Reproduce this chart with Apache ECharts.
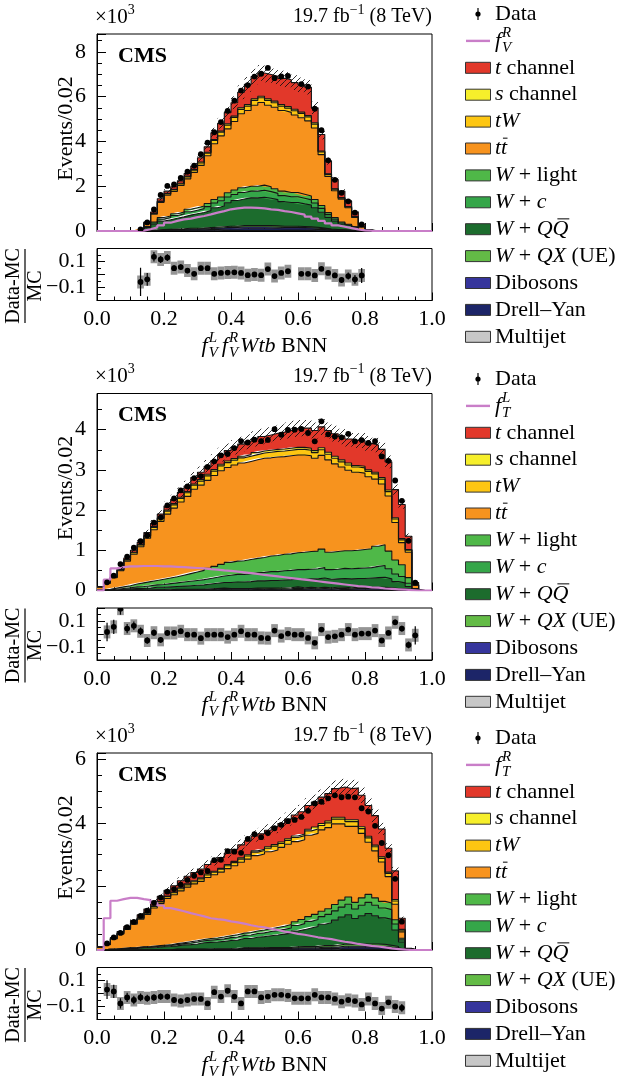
<!DOCTYPE html>
<html><head><meta charset="utf-8">
<script src="https://cdn.jsdelivr.net/npm/echarts@6/dist/echarts.min.js"></script>
<style>html,body{margin:0;padding:0;background:#fff}#c{width:632px;height:1081px}</style>
</head><body><div id="c"></div>
<script>
// ---------------- DATA (values in units of 10^3 events per bin, 50 bins of width 0.02) ----------------
const binWidth = 0.02;
const xTickLabels = ['0.0','0.2','0.4','0.6','0.8','1.0'];

// Panel 1 : f_V^R
const p1_tchan = [0,0,0,0,0,0, 0.01,0.03,0.06,0.1,0.1,0.12,0.11,0.12,0.15,0.19, 0.24,0.3,0.35,0.5,0.6,0.7,0.9,1.0,1.04,1.09, 1.11,1.17,1.2,1.19,1.22,1.26,0.67,0.74,0.56,0.41, 0.29,0.25,0.21,0.11,0.02, 0,0,0,0,0,0,0,0,0];
const p1_schan = [0,0,0,0,0,0, 0,0,0.01,0.02,0.02,0.02,0.03,0.03,0.03,0.04, 0.04,0.05,0.05,0.06,0.06,0.07,0.07,0.07,0.07,0.07, 0.07,0.07,0.07,0.07,0.06,0.06,0.06,0.04,0.03,0.02, 0.02,0.01,0.01,0,0, 0,0,0,0,0,0,0,0,0];
const p1_tW = [0,0,0,0,0,0, 0,0.01,0.03,0.05,0.06,0.07,0.07,0.09,0.1,0.11, 0.12,0.14,0.16,0.17,0.18,0.19,0.2,0.21,0.21,0.21, 0.2,0.2,0.19,0.19,0.19,0.18,0.17,0.12,0.09,0.07, 0.05,0.04,0.02,0.01,0, 0,0,0,0,0,0,0,0,0];
const p1_ttbar = [0,0,0,0,0,0, 0.02,0.16,0.35,0.67,0.93,1.0,1.18,1.36,1.58,1.81, 2.13,2.49,2.73,2.85,3.06,3.31,3.38,3.62,3.69,3.64, 3.64,3.6,3.58,3.46,3.42,3.36,3.19,2.27,1.62,1.2, 1.02,0.74,0.42,0.11,0.02, 0,0,0,0,0,0,0,0,0];
const p1_Wlight = [0,0,0,0,0,0, 0.01,0.02,0.04,0.07,0.07,0.08,0.09,0.11,0.11,0.12, 0.14,0.16,0.17,0.19,0.2,0.21,0.22,0.22,0.23,0.22, 0.21,0.2,0.19,0.19,0.18,0.17,0.16,0.13,0.09,0.07, 0.04,0.03,0.02,0.01,0, 0,0,0,0,0,0,0,0,0];
const p1_Wc = [0,0,0,0,0,0, 0.01,0.03,0.06,0.09,0.1,0.12,0.13,0.15,0.16,0.17, 0.18,0.21,0.23,0.26,0.27,0.29,0.3,0.3,0.31,0.3, 0.28,0.27,0.26,0.26,0.25,0.23,0.21,0.17,0.12,0.09, 0.06,0.05,0.03,0.01,0, 0,0,0,0,0,0,0,0,0];
const p1_WQQ = [0,0,0,0,0,0, 0.03,0.12,0.26,0.37,0.42,0.48,0.53,0.59,0.65,0.7, 0.76,0.87,0.93,1.05,1.15,1.19,1.24,1.24,1.27,1.22, 1.17,1.1,1.06,1.06,1.01,0.97,0.87,0.71,0.52,0.37, 0.25,0.19,0.11,0.05,0.01, 0,0,0,0,0,0,0,0,0];
const p1_WQX = [0,0,0,0,0,0, 0,0.01,0.01,0.02,0.02,0.02,0.03,0.03,0.03,0.03, 0.04,0.04,0.05,0.05,0.05,0.06,0.06,0.06,0.06,0.06, 0.06,0.05,0.05,0.05,0.05,0.05,0.04,0.03,0.02,0.02, 0.01,0.01,0.01,0,0, 0,0,0,0,0,0,0,0,0];
const p1_diboson = [0,0,0,0,0,0, 0,0.01,0.01,0.02,0.02,0.03,0.03,0.04,0.04,0.05, 0.05,0.06,0.06,0.07,0.07,0.08,0.08,0.08,0.08,0.08, 0.07,0.07,0.07,0.07,0.06,0.06,0.06,0.04,0.03,0.02, 0.02,0.01,0.01,0,0, 0,0,0,0,0,0,0,0,0];
const p1_DY = [0,0,0,0,0,0, 0,0.01,0.02,0.02,0.03,0.03,0.03,0.04,0.04,0.04, 0.05,0.06,0.06,0.07,0.07,0.08,0.08,0.08,0.08,0.08, 0.08,0.07,0.07,0.07,0.07,0.06,0.06,0.05,0.03,0.02, 0.02,0.01,0.01,0,0, 0,0,0,0,0,0,0,0,0];
const p1_multijet = [0,0,0,0,0,0, 0,0,0,0.01,0.01,0.01,0.01,0.01,0.01,0.01, 0.01,0.01,0.02,0.02,0.02,0.02,0.02,0.02,0.02,0.02, 0.02,0.02,0.02,0.02,0.02,0.02,0.01,0.01,0.01,0.01, 0,0,0,0,0, 0,0,0,0,0,0,0,0,0];
const p1_signal = [0,0,0,0,0,0, 0.02,0.08,0.16,0.25,0.37,0.45,0.52,0.55,0.62,0.67, 0.74,0.82,0.89,0.97,1.01,1.04,1.04,1.03,1.01,0.97, 0.94,0.89,0.85,0.79,0.73,0.64,0.55,0.45,0.34,0.25, 0.19,0.13,0.07,0.03,0.01, 0,0,0,0,0,0,0,0,0];
const p1_ratio = [null,null,null,null,null,null, -0.057,-0.037,0.136,0.116,0.13,0.049,0.057,0.03,0.005,0.049, 0.049,0.005,0.012,0.015,0.017,0.012,-0.005,0,-0.005,0.042, -0.012,0.012,0.025,null,0.005,0.005,-0.007,0.044,0.012,-0.007, -0.042,-0.012,-0.037,-0.007,null, null,null,null,null,null,null,null,null,null];

// Panel 2 : f_T^L
const p2_tchan = [0.01,0.01,0.02,0.03,0.04,0.05,0.06,0.07,0.08,0.09, 0.1,0.11,0.12,0.14,0.16,0.18,0.2,0.22,0.24,0.26, 0.28,0.3,0.32,0.34,0.36,0.38,0.4,0.42,0.44,0.46, 0.48,0.5,0.5,0.52,0.54,0.56,0.58,0.6,0.62,0.64, 0.66,0.68,0.7,0.7,0.7,0.85,0.33,0.06,0,0];
const p2_schan = [0,0,0,0.01,0.01,0.01,0.01,0.02,0.02,0.02, 0.03,0.03,0.03,0.03,0.03,0.04,0.04,0.04,0.04,0.04, 0.04,0.04,0.04,0.05,0.05,0.05,0.05,0.05,0.05,0.05, 0.05,0.05,0.05,0.05,0.05,0.05,0.05,0.05,0.04,0.04, 0.04,0.04,0.04,0.04,0.03,0.03,0.02,0,0,0];
const p2_tW = [0,0.01,0.01,0.02,0.03,0.04,0.04,0.05,0.06,0.07, 0.07,0.08,0.09,0.09,0.1,0.1,0.11,0.11,0.12,0.12, 0.12,0.13,0.13,0.13,0.13,0.14,0.14,0.14,0.14,0.14, 0.14,0.14,0.14,0.14,0.14,0.14,0.13,0.13,0.13,0.13, 0.13,0.13,0.12,0.11,0.09,0.07,0.05,0.01,0,0];
const p2_ttbar = [0.08,0.15,0.26,0.4,0.61,0.74,0.9,1.08,1.26,1.44, 1.59,1.71,1.82,1.92,2.06,2.12,2.19,2.26,2.33,2.36, 2.39,2.43,2.44,2.45,2.47,2.44,2.45,2.43,2.44,2.43, 2.42,2.38,2.31,2.33,2.3,2.18,2.08,2.0,1.94,1.9, 1.79,1.67,1.51,1.37,0.93,0.55,0.63,0.08,0,0];
const p2_Wlight = [0,0.01,0.03,0.04,0.05,0.07,0.09,0.1,0.11,0.13, 0.14,0.15,0.17,0.19,0.21,0.23,0.25,0.27,0.29,0.32, 0.33,0.34,0.35,0.36,0.37,0.39,0.4,0.41,0.41,0.42, 0.43,0.44,0.44,0.46,0.43,0.44,0.44,0.45,0.45,0.46, 0.47,0.5,0.52,0.44,0.35,0.29,0.14,0.02,0,0];
const p2_Wc = [0,0.01,0.02,0.02,0.03,0.04,0.05,0.06,0.06,0.07, 0.08,0.09,0.1,0.11,0.12,0.13,0.14,0.15,0.16,0.18, 0.19,0.19,0.2,0.2,0.21,0.22,0.22,0.23,0.23,0.23, 0.24,0.24,0.25,0.26,0.24,0.24,0.25,0.25,0.25,0.26, 0.26,0.28,0.29,0.25,0.19,0.16,0.08,0.01,0,0];
const p2_WQQ = [0.01,0.01,0.01,0.02,0.03,0.03,0.04,0.05,0.06,0.06, 0.07,0.07,0.08,0.09,0.1,0.11,0.12,0.13,0.14,0.15, 0.16,0.16,0.17,0.18,0.18,0.19,0.19,0.2,0.2,0.2, 0.21,0.21,0.22,0.23,0.21,0.21,0.22,0.22,0.22,0.22, 0.23,0.24,0.25,0.22,0.17,0.14,0.07,0.02,0,0];
const p2_WQX = [0,0,0,0,0,0,0,0,0.01,0.01, 0.01,0.01,0.01,0.01,0.01,0.01,0.02,0.02,0.02,0.02, 0.02,0.02,0.02,0.02,0.03,0.02,0.03,0.03,0.03,0.03, 0.03,0.03,0.03,0.03,0.03,0.03,0.03,0.03,0.03,0.03, 0.03,0.03,0.03,0.03,0.02,0.02,0.01,0,0,0];
const p2_diboson = [0,0,0,0.01,0.01,0.01,0.01,0.01,0.01,0.01, 0.01,0.01,0.01,0.01,0.01,0.01,0.01,0.02,0.02,0.02, 0.02,0.02,0.02,0.02,0.02,0.02,0.02,0.02,0.02,0.03, 0.02,0.03,0.02,0.03,0.02,0.03,0.02,0.02,0.03,0.03, 0.03,0.03,0.03,0.02,0.02,0.02,0.01,0,0,0];
const p2_DY = [0,0,0,0,0,0.01,0,0,0,0, 0,0.01,0.01,0.01,0.01,0.01,0.01,0.01,0.01,0.01, 0.01,0.01,0.01,0.01,0.01,0.02,0.01,0.01,0.02,0.02, 0.02,0.02,0.02,0.02,0.02,0.02,0.02,0.02,0.02,0.02, 0.02,0.02,0.02,0.02,0.01,0.01,0.01,0,0,0];
const p2_multijet = [0,0,0,0,0,0,0,0,0,0, 0,0,0,0,0,0,0,0,0.01,0, 0,0,0,0.01,0,0,0,0,0,0.01, 0,0,0,0,0,0,0.01,0,0,0, 0,0,0,0,0,0,0,0,0,0];
const p2_signal = [0,0.27,0.55,0.58,0.6,0.6,0.61,0.61,0.61,0.6, 0.6,0.59,0.58,0.57,0.56,0.55,0.53,0.52,0.5,0.49, 0.47,0.45,0.43,0.41,0.39,0.37,0.35,0.33,0.31,0.29, 0.27,0.25,0.23,0.21,0.19,0.17,0.15,0.13,0.11,0.1, 0.08,0.07,0.05,0.04,0.03,0.02,0.01,0,0,0];
const p2_ratio = [null, 0.016,0.055,0.195,0.042,0.063,0.021,-0.05,0.01,-0.045, 0.008,0.008,0.021,-0.005,-0.005,-0.032,-0.005,-0.005,-0.005,-0.024, -0.005,0.021,-0.005,-0.005,-0.03,-0.032,0.026,-0.016,0.003,-0.005, -0.005,-0.03,-0.068,0.034,-0.024,-0.018,-0.005,0.034,-0.005,0.003, 0.003,0.026,-0.05,0.008,0.09,0.042,-0.084,-0.01,null,null];

// Panel 3 : f_T^R
const p3_tchan = [0.01,0.02,0.03,0.05,0.06,0.08,0.1,0.11,0.14,0.16, 0.18,0.2,0.22,0.24,0.26,0.28,0.3,0.32,0.34,0.36, 0.38,0.41,0.44,0.47,0.49,0.52,0.55,0.58,0.62,0.66, 0.7,0.75,0.79,0.83,0.86,0.9,0.95,0.98,1.0,0.99, 0.97,0.93,0.88,0.75,0.9,0.35,0.02,0,0,0];
const p3_schan = [0,0,0,0.01,0.01,0.01,0.01,0.02,0.02,0.02, 0.02,0.02,0.03,0.03,0.03,0.03,0.03,0.03,0.03,0.04, 0.04,0.04,0.04,0.04,0.04,0.05,0.05,0.05,0.05,0.05, 0.05,0.05,0.06,0.06,0.06,0.06,0.06,0.06,0.06,0.06, 0.05,0.05,0.05,0.04,0.05,0.03,0,0,0,0];
const p3_tW = [0,0.01,0.01,0.02,0.02,0.03,0.03,0.04,0.05,0.05, 0.06,0.06,0.07,0.07,0.07,0.08,0.08,0.08,0.09,0.09, 0.1,0.1,0.1,0.11,0.11,0.11,0.12,0.12,0.12,0.13, 0.13,0.14,0.14,0.14,0.15,0.15,0.15,0.15,0.15,0.15, 0.14,0.13,0.11,0.1,0.1,0.05,0,0,0,0];
const p3_ttbar = [0.08,0.15,0.32,0.45,0.58,0.73,0.87,1.01,1.19,1.31, 1.46,1.54,1.63,1.72,1.79,1.83,1.92,1.99,2.04,2.11, 2.17,2.23,2.31,2.37,2.39,2.42,2.44,2.48,2.53,2.52, 2.51,2.56,2.55,2.56,2.55,2.54,2.4,2.22,2.39,2.03, 1.64,1.48,1.24,0.83,0.49,0.2,0.01,0,0,0];
const p3_Wlight = [0,0,0,0.01,0.01,0.01,0.01,0.02,0.02,0.02, 0.02,0.03,0.03,0.04,0.04,0.04,0.05,0.05,0.06,0.06, 0.07,0.07,0.08,0.08,0.09,0.09,0.1,0.1,0.11,0.12, 0.13,0.15,0.16,0.17,0.18,0.2,0.22,0.23,0.21,0.23, 0.25,0.23,0.21,0.21,0.13,0.05,0,0,0,0];
const p3_Wc = [0,0,0.01,0.01,0.01,0.02,0.02,0.02,0.03,0.03, 0.03,0.04,0.04,0.05,0.06,0.06,0.07,0.08,0.08,0.09, 0.1,0.1,0.11,0.12,0.12,0.13,0.14,0.15,0.16,0.17, 0.19,0.21,0.22,0.24,0.26,0.29,0.31,0.33,0.3,0.33, 0.35,0.33,0.31,0.3,0.19,0.07,0,0,0,0];
const p3_WQQ = [0.01,0.02,0.02,0.03,0.05,0.05,0.07,0.07,0.07,0.09, 0.1,0.1,0.13,0.14,0.16,0.2,0.21,0.21,0.23,0.26, 0.27,0.29,0.29,0.33,0.35,0.37,0.39,0.42,0.45,0.5, 0.53,0.58,0.63,0.67,0.72,0.79,0.86,0.92,0.81,0.89, 0.96,0.89,0.83,0.82,0.52,0.22,0.02,0,0,0];
const p3_WQX = [0,0,0,0,0,0,0,0,0.01,0.01, 0.01,0.01,0.01,0.01,0.01,0.01,0.01,0.02,0.02,0.02, 0.02,0.02,0.02,0.02,0.02,0.03,0.03,0.03,0.03,0.03, 0.04,0.04,0.04,0.05,0.05,0.06,0.06,0.07,0.06,0.07, 0.07,0.07,0.06,0.06,0.04,0.01,0,0,0,0];
const p3_diboson = [0,0,0,0,0,0,0,0,0,0, 0,0.01,0.01,0.01,0.01,0.01,0.01,0.01,0.01,0.01, 0.01,0.02,0.02,0.02,0.02,0.02,0.02,0.02,0.02,0.03, 0.03,0.03,0.03,0.04,0.04,0.04,0.05,0.05,0.05,0.05, 0.05,0.05,0.05,0.04,0.03,0.01,0,0,0,0];
const p3_DY = [0,0,0,0,0,0,0,0,0,0, 0,0.01,0.01,0.01,0.01,0.01,0.01,0.01,0.01,0.01, 0.01,0.02,0.02,0.02,0.02,0.02,0.02,0.02,0.02,0.03, 0.03,0.03,0.03,0.04,0.04,0.04,0.05,0.05,0.05,0.05, 0.05,0.05,0.05,0.04,0.03,0.01,0,0,0,0];
const p3_multijet = [0,0,0,0,0,0,0,0,0,0, 0,0,0,0,0,0,0,0,0,0, 0,0.01,0.01,0.01,0.01,0.01,0.01,0.01,0.01,0.01, 0.01,0.01,0.01,0.01,0.01,0.01,0.02,0.02,0.02,0.02, 0.02,0.02,0.02,0.01,0.01,0,0,0,0,0];
const p3_signal = [0,1.0,1.55,1.6,1.64,1.64,1.6,1.57,1.48,1.4, 1.32,1.27,1.22,1.16,1.11,1.06,1.0,0.97,0.95,0.9, 0.87,0.83,0.78,0.74,0.71,0.67,0.63,0.58,0.55,0.51, 0.48,0.44,0.4,0.37,0.34,0.3,0.26,0.23,0.19,0.16, 0.13,0.11,0.08,0.05,0.03,0.01,0,0,0,0];
const p3_ratio = [null, 0.03,0.016,-0.076,-0.03,-0.05,-0.03,-0.037,-0.03,-0.024, -0.024,-0.05,-0.058,-0.05,-0.042,-0.042,-0.076,0.01,-0.024,0.021, -0.024,-0.076,0.016,0.016,-0.03,-0.024,-0.01,-0.01,-0.016,-0.037, -0.037,-0.037,-0.01,-0.03,-0.03,-0.042,-0.063,-0.05,-0.058,-0.084, -0.042,-0.076,-0.116,-0.068,-0.1,-0.11,null,null,null,null];

const mcRelUnc = 0.05; // relative MC uncertainty (hatched band / grey boxes)

// ---------------- STYLE / LAYOUT ----------------
const FONT = 'Liberation Serif';
const COLORS = {t:'#e2382a', s:'#f6ef2b', tW:'#fdc612', tt:'#f7931e', Wl:'#4fb848', Wc:'#35a649',
  QQ:'#1c6c2d', UE:'#63bb46', DB:'#36359c', DY:'#1c2568', MJ:'#c7c7c7', sig:'#c97ec8'};
const ORDER = ['MJ','DY','DB','UE','QQ','Wc','Wl','tt','tW','s','t']; // bottom -> top
const panels = [
  {t:p1_tchan,s:p1_schan,tW:p1_tW,tt:p1_ttbar,Wl:p1_Wlight,Wc:p1_Wc,QQ:p1_WQQ,UE:p1_WQX,DB:p1_diboson,DY:p1_DY,MJ:p1_multijet,sig:p1_signal,ratio:p1_ratio,
   ymax:8.8, yint:2, yminor:4, sup:'R', sub:'V'},
  {t:p2_tchan,s:p2_schan,tW:p2_tW,tt:p2_ttbar,Wl:p2_Wlight,Wc:p2_Wc,QQ:p2_WQQ,UE:p2_WQX,DB:p2_diboson,DY:p2_DY,MJ:p2_multijet,sig:p2_signal,ratio:p2_ratio,
   ymax:4.9, yint:1, yminor:2, sup:'L', sub:'T'},
  {t:p3_tchan,s:p3_schan,tW:p3_tW,tt:p3_ttbar,Wl:p3_Wlight,Wc:p3_Wc,QQ:p3_WQQ,UE:p3_WQX,DB:p3_diboson,DY:p3_DY,MJ:p3_multijet,sig:p3_signal,ratio:p3_ratio,
   ymax:6.2, yint:2, yminor:4, sup:'R', sub:'T'}
];
const LEFT = 97, WIDTH = 335, MAIN_TOP = [34, 393.5, 753], MAIN_H = 197, GAP = 17.5, RAT_H = 52;
const DY_PANEL = [0, 359.5, 719];
const LEG_TOP = [14, 379, 738];

const NB = 50;
const edges = Array.from({length: NB + 1}, (_, i) => +(i * binWidth).toFixed(2));
// points stored as [value, x] so that the stacked dimension is the value (encode x:1, y:0)
function stepData(arr) { const d = arr.map((v, i) => [v, edges[i]]); d.push([arr[NB - 1], edges[NB]]); return d; }

// hatch pattern
const hc = document.createElement('canvas'); hc.width = 6; hc.height = 6;
(function(){ const g = hc.getContext('2d'); g.strokeStyle = 'rgba(15,15,15,0.95)'; g.lineWidth = 0.9;
  g.beginPath(); g.moveTo(0,6); g.lineTo(6,0); g.moveTo(-1,1); g.lineTo(1,-1); g.moveTo(5,7); g.lineTo(7,5); g.stroke(); })();
const HATCH = {image: hc, repeat: 'repeat'};

// text helpers
const mctx = document.createElement('canvas').getContext('2d');
function fstr(s) { return (s.it ? 'italic ' : '') + (s.b ? 'bold ' : '') + (s.size || 22) + 'px "' + FONT + '"'; }
function txt(t, x, y, s) {
  return {type:'text', x, y, silent:true, style:{text:t, fill:'#000', fontFamily:FONT, fontSize:s.size || 22,
    fontStyle:s.it ? 'italic' : 'normal', fontWeight:s.b ? 'bold' : 'normal',
    align:'left', verticalAlign:'middle', textAlign:'left', textVerticalAlign:'middle'}};
}
function runs(segs, x, y, align) {
  let cur = 0, lastStart = 0, lastW = 0; const pos = [];
  segs.forEach(s => { mctx.font = fstr(s); const w = mctx.measureText(s.t).width; let sx;
    if (s.stack) { sx = lastStart; const adv = Math.max(lastW, w); cur = lastStart + adv + (s.gap || 0); lastW = adv; }
    else { sx = cur + (s.pre || 0); lastStart = sx; lastW = w; cur = sx + w + (s.gap || 0); }
    pos.push({s, sx, w}); });
  const x0 = align === 'center' ? x - cur / 2 : align === 'right' ? x - cur : x;
  const els = [];
  pos.forEach(({s, sx, w}) => {
    els.push(txt(s.t, x0 + sx, y + (s.dy || 0), s));
    if (s.bar) { const by = y + (s.dy || 0) - (s.size || 22) * 0.47;
      els.push({type:'line', silent:true, shape:{x1:x0 + sx + w * 0.3, y1:by, x2:x0 + sx + w * 1.05, y2:by}, style:{stroke:'#000', lineWidth:1}}); }
  });
  return els;
}

const grids = [], xAxes = [], yAxes = [], series = [], graphics = [];
const axisFontSize = 22;

panels.forEach((P, p) => {
  const mTop = MAIN_TOP[p], rTop = mTop + MAIN_H + GAP;
  grids.push({left:LEFT, top:mTop, width:WIDTH, height:MAIN_H, show:true, borderColor:'#000', borderWidth:1, containLabel:false, outerBoundsMode:'none'});
  grids.push({left:LEFT, top:rTop, width:WIDTH, height:RAT_H, show:true, borderColor:'#000', borderWidth:1, containLabel:false, outerBoundsMode:'none'});
  const gi = 2 * p, ri = 2 * p + 1;
  const xBase = (show) => ({type:'value', min:0, max:1, interval:0.2,
    axisLine:{show:true, onZero:false, lineStyle:{color:'#000', width:1}},
    axisTick:{show:true, inside:true, length:8, lineStyle:{color:'#000', width:1}},
    minorTick:{show:true, splitNumber:4, length:4, lineStyle:{color:'#000', width:1}},
    splitLine:{show:false}, minorSplitLine:{show:false},
    axisLabel:{show:show, margin:8, fontFamily:FONT, fontSize:axisFontSize, color:'#000',
      formatter: v => xTickLabels[Math.round(v / 0.2)] || ''}});
  xAxes.push(Object.assign(xBase(false), {gridIndex:gi}));
  xAxes.push(Object.assign(xBase(true), {gridIndex:ri}));
  yAxes.push({type:'value', gridIndex:gi, min:0, max:P.ymax, interval:P.yint,
    axisLine:{show:true, onZero:false, lineStyle:{color:'#000', width:1}},
    axisTick:{show:true, inside:true, length:9, lineStyle:{color:'#000'}},
    minorTick:{show:true, splitNumber:P.yminor, length:5, lineStyle:{color:'#000'}},
    splitLine:{show:false}, minorSplitLine:{show:false},
    axisLabel:{margin:11, fontFamily:FONT, fontSize:axisFontSize, color:'#000', showMaxLabel:false,
      formatter: v => (Math.abs(v / P.yint - Math.round(v / P.yint)) < 1e-6 ? String(Math.round(v)) : '')}});
  yAxes.push({type:'value', gridIndex:ri, min:-0.2, max:0.2, interval:0.1,
    axisLine:{show:true, onZero:false, lineStyle:{color:'#000', width:1}},
    axisTick:{show:true, inside:true, length:8, lineStyle:{color:'#000'}},
    minorTick:{show:true, splitNumber:2, length:4, lineStyle:{color:'#000'}},
    splitLine:{show:false}, minorSplitLine:{show:false},
    axisLabel:{margin:11, fontFamily:FONT, fontSize:axisFontSize, color:'#000',
      formatter: v => Math.abs(v - 0.1) < 1e-6 ? '0.1' : (Math.abs(v + 0.1) < 1e-6 ? '\u22120.1' : '')}});

  // stacked MC
  ORDER.forEach(k => {
    series.push({type:'line', name:k, xAxisIndex:gi, yAxisIndex:gi, stack:'mc' + p, step:'end', symbol:'none', showSymbol:false,
      data:stepData(P[k]), encode:{x:1, y:0}, lineStyle:{color:'#141414', width:1.1}, itemStyle:{color:COLORS[k]},
      areaStyle:{color:COLORS[k], opacity:1}, z:2, silent:true, animation:false});
  });
  const total = P.t.map((_, i) => ORDER.reduce((a, k) => a + P[k][i], 0));
  // signal line
  series.push({type:'line', name:'sig' + p, xAxisIndex:gi, yAxisIndex:gi, step:'end', symbol:'none', data:stepData(P.sig), encode:{x:1, y:0},
    lineStyle:{color:COLORS.sig, width:2.2}, itemStyle:{color:COLORS.sig}, z:3, silent:true, animation:false});
  // hatched MC uncertainty
  const hatchData = [];
  total.forEach((T, i) => { if (T > 0) hatchData.push([edges[i], edges[i + 1], T]); });
  series.push({type:'custom', xAxisIndex:gi, yAxisIndex:gi, data:hatchData, encode:{x:[0,1], y:2}, z:4, clip:true, silent:true, animation:false,
    renderItem:(params, api) => { const x0 = api.value(0), x1 = api.value(1), T = api.value(2);
      const a = api.coord([x0, T * (1 + mcRelUnc)]), b = api.coord([x1, T * (1 - mcRelUnc)]);
      return {type:'rect', shape:{x:a[0], y:a[1], width:b[0] - a[0], height:b[1] - a[1]}, style:{fill:HATCH, stroke:null}}; }});
  // data points (main) and ratio
  const dataPts = [], ratPts = [];
  P.ratio.forEach((r, i) => {
    if (r === null || !(total[i] > 0)) return;
    const D = total[i] * (1 + r); const err = Math.sqrt(D * 1000) / 1000;
    dataPts.push([(edges[i] + edges[i + 1]) / 2, D, err]);
    ratPts.push([edges[i], edges[i + 1], r, err / total[i]]);
  });
  series.push({type:'custom', xAxisIndex:gi, yAxisIndex:gi, data:dataPts, encode:{x:0, y:1}, z:5, clip:true, silent:true, animation:false,
    renderItem:(params, api) => { const xc = api.value(0), D = api.value(1), e = api.value(2);
      const c = api.coord([xc, D]), lo = api.coord([xc, D - e]), hi = api.coord([xc, D + e]);
      return {type:'group', children:[
        {type:'line', shape:{x1:c[0], y1:lo[1], x2:c[0], y2:hi[1]}, style:{stroke:'#000', lineWidth:1.2}},
        {type:'circle', shape:{cx:c[0], cy:c[1], r:2.9}, style:{fill:'#000'}}]}; }});
  series.push({type:'custom', xAxisIndex:ri, yAxisIndex:ri, data:ratPts, encode:{x:[0,1], y:2}, z:5, clip:true, silent:true, animation:false,
    renderItem:(params, api) => { const x0 = api.value(0), x1 = api.value(1), r = api.value(2), e = api.value(3);
      const a = api.coord([x0, r + mcRelUnc]), b = api.coord([x1, r - mcRelUnc]);
      const xc = (x0 + x1) / 2, c = api.coord([xc, r]), lo = api.coord([xc, r - e]), hi = api.coord([xc, r + e]);
      return {type:'group', children:[
        {type:'rect', shape:{x:a[0], y:a[1], width:b[0] - a[0], height:b[1] - a[1]}, style:{fill:'#959595'}},
        {type:'line', shape:{x1:c[0], y1:lo[1], x2:c[0], y2:hi[1]}, style:{stroke:'#000', lineWidth:1.2}},
        {type:'circle', shape:{cx:c[0], cy:c[1], r:2.9}, style:{fill:'#000'}}]}; }});

  // ----- texts -----
  const dy = DY_PANEL[p];
  graphics.push(...runs([{t:'\u00d710', size:21}, {t:'3', size:14, dy:-7}], 95, 17 + dy, 'left'));
  graphics.push(...runs([{t:'19.7 fb', size:20}, {t:'\u22121', size:14, dy:-7}, {t:' (8 TeV)', size:20}], 432, 17 + dy, 'right'));
  graphics.push(...runs([{t:'CMS', size:22, b:true}], 118, 56 + dy, 'left'));
  graphics.push({type:'group', x:66, y:128.5 + dy, rotation:Math.PI / 2, silent:true,
    children:runs([{t:'Events/0.02', size:22}], 0, 0, 'center')});
  graphics.push({type:'group', x:24.5, y:286 + dy, rotation:Math.PI / 2, silent:true,
    children:[...runs([{t:'Data-MC', size:20}], 0, -10.5, 'center'), ...runs([{t:'MC', size:20}], 0, 11.5, 'center'),
      {type:'line', shape:{x1:-37, y1:0.5, x2:37, y2:0.5}, style:{stroke:'#000', lineWidth:1.2}}]});
  graphics.push(...runs([{t:'f', size:22, it:true}, {t:'L', size:15, it:true, dy:-8, pre:1}, {t:'V', size:15, it:true, dy:7, stack:true, gap:4},
    {t:'f', size:22, it:true}, {t:'R', size:15, it:true, dy:-8, pre:1}, {t:'V', size:15, it:true, dy:7, stack:true, gap:2},
    {t:'Wtb', size:22, it:true}, {t:' BNN', size:22}], LEFT + WIDTH / 2, 346 + dy, 'center'));

  // ----- legend -----
  const ly = LEG_TOP[p], st = 26.9, BX = 465.5, BWd = 25, BH = 11, TX = 495, LS = 22;
  const boxRows = [
    ['t', [{t:'t', it:true, size:LS}, {t:' channel', size:LS}]],
    ['s', [{t:'s', it:true, size:LS}, {t:' channel', size:LS}]],
    ['tW', [{t:'tW', it:true, size:LS}]],
    ['tt', [{t:'t', it:true, size:LS}, {t:'t', it:true, size:LS, bar:true}]],
    ['Wl', [{t:'W', it:true, size:LS}, {t:' + light', size:LS}]],
    ['Wc', [{t:'W', it:true, size:LS}, {t:' + ', size:LS}, {t:'c', it:true, size:LS}]],
    ['QQ', [{t:'W', it:true, size:LS}, {t:' + ', size:LS}, {t:'Q', it:true, size:LS}, {t:'Q', it:true, size:LS, bar:true}]],
    ['UE', [{t:'W', it:true, size:LS}, {t:' + ', size:LS}, {t:'QX', it:true, size:LS}, {t:' (UE)', size:LS}]],
    ['DB', [{t:'Dibosons', size:LS}]],
    ['DY', [{t:'Drell\u2013Yan', size:LS}]],
    ['MJ', [{t:'Multijet', size:LS}]]
  ];
  graphics.push({type:'line', silent:true, shape:{x1:478, y1:ly - 6, x2:478, y2:ly + 6}, style:{stroke:'#000', lineWidth:1.2}});
  graphics.push({type:'circle', silent:true, shape:{cx:478, cy:ly, r:2.6}, style:{fill:'#000'}});
  graphics.push(...runs([{t:'Data', size:LS}], TX, ly, 'left'));
  const y1 = ly + st;
  graphics.push({type:'line', silent:true, shape:{x1:466, y1:y1, x2:490, y2:y1}, style:{stroke:COLORS.sig, lineWidth:2.4}});
  graphics.push(...runs([{t:'f', it:true, size:LS}, {t:P.sup, it:true, size:15, dy:-8, pre:1}, {t:P.sub, it:true, size:15, dy:7, stack:true}], TX, y1, 'left'));
  boxRows.forEach(([k, segs], j) => {
    const y = ly + st * (j + 2);
    graphics.push({type:'rect', silent:true, shape:{x:BX, y:y - BH / 2, width:BWd, height:BH}, style:{fill:COLORS[k], stroke:'#333', lineWidth:1}});
    graphics.push(...runs(segs, TX, y, 'left'));
  });
});

const chart = echarts.init(document.getElementById('c'), null, {renderer:'canvas'});
chart.setOption({animation:false, backgroundColor:'#fff', grid:grids, xAxis:xAxes, yAxis:yAxes, series:series,
  graphic:{elements:graphics}});
</script></body></html>
